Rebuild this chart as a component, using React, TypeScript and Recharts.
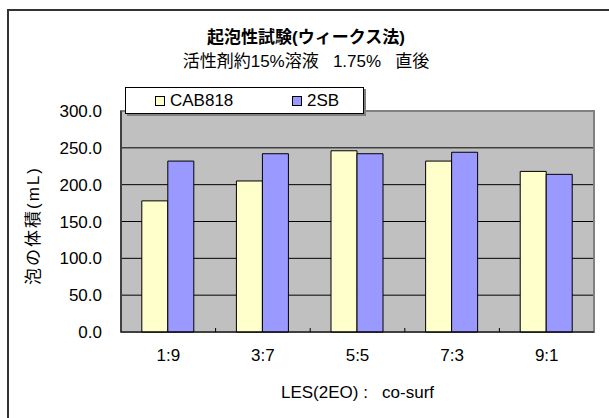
import React from 'react';
import { BarChart, Bar, XAxis, YAxis, CartesianGrid, Legend, ReferenceArea } from 'recharts';

const categories = ['1:9', '3:7', '5:5', '7:3', '9:1'];
const seriesNames = ['CAB818', '2SB'];
const cab818 = [178, 205, 246, 232, 218];
const sb2 = [232, 242, 242, 244, 214];
const yTicks = [0, 50, 100, 150, 200, 250, 300];
const gridValues = [50, 100, 150, 200, 250];

const title = '起泡性試験(ウィークス法)';
const subtitle = '活性剤約15%溶液   1.75%   直後';
const xTitle = 'LES(2EO)\u00a0:\u00a0\u00a0\u00a0co-surf';
const yTitle = '泡の体積(mL)';

const data = categories.map((name, i) => ({ name, [seriesNames[0]]: cab818[i], [seriesNames[1]]: sb2[i] }));

const FONT = "'Liberation Sans', Arial, 'Noto Sans CJK JP', sans-serif";

const XTick = (props: any) => {
  const { x, y, payload, index, width, visibleTicksCount } = props;
  const half = payload.offset ?? width / (visibleTicksCount || categories.length) / 2;
  const axisY = y - 17;
  return (
    <g>
      <text x={x} y={y} dy="0.71em" textAnchor="middle" fontSize={17} fontFamily={FONT} fill="#000">
        {payload.value}
      </text>
      {index > 0 && <line x1={x - half} x2={x - half} y1={axisY} y2={axisY - 4} stroke="#000" />}
    </g>
  );
};

const YTitle = (props: any) => {
  const { viewBox } = props;
  const cx = 33;
  const cy = viewBox.y + viewBox.height / 2 + 4;
  return (
    <text
      x={cx}
      y={cy}
      transform={`rotate(-90, ${cx}, ${cy})`}
      textAnchor="middle"
      dominantBaseline="central"
      fontSize={17}
      letterSpacing={2}
      fontFamily={FONT}
      fill="#000"
    >
      {yTitle}
    </text>
  );
};

const LegendBox = (props: any) => {
  const items = [...(props.payload || [])].sort(
    (a: any, b: any) => seriesNames.indexOf(a.value) - seriesNames.indexOf(b.value)
  );
  const pos = [29, 166];
  return (
    <div
      style={{
        position: 'absolute',
        left: 0,
        top: 0,
        width: 239,
        height: 27,
        boxSizing: 'border-box',
        border: '1px solid #000',
        background: '#fff',
        boxShadow: '2px 2px 0 #808080',
        fontFamily: FONT,
        fontSize: 17,
      }}
    >
      {items.map((it: any, i: number) => (
        <div key={it.value} style={{ position: 'absolute', left: pos[i], top: 2, display: 'flex', alignItems: 'center', height: 22 }}>
          <span
            style={{
              display: 'inline-block',
              width: 8,
              height: 8,
              border: '1px solid #000',
              background: it.color,
              marginRight: 5,
            }}
          />
          <span style={{ color: '#000' }}>{it.value}</span>
        </div>
      ))}
    </div>
  );
};

export default function App() {
  return (
    <div style={{ position: 'absolute', left: 0, top: 0, width: 609, height: 418, overflow: 'hidden', background: '#fff' }}>
      <div style={{ position: 'absolute', left: 7, top: 9, width: 700, height: 500, borderLeft: '2px solid #333', borderTop: '2px solid #333' }} />
      <div style={{ position: 'absolute', left: 0, top: 28, width: 612, textAlign: 'center', fontFamily: FONT, fontSize: 17, fontWeight: 'bold', lineHeight: '20px' }}>
        {title}
      </div>
      <div style={{ position: 'absolute', left: 0, top: 52, width: 612, textAlign: 'center', fontFamily: FONT, fontSize: 17, lineHeight: '20px', whiteSpace: 'pre' }}>
        {subtitle}
      </div>
      <div style={{ position: 'absolute', left: 0, top: 0 }}>
        <BarChart
          width={609}
          height={418}
          data={data}
          margin={{ top: 111, right: 15, bottom: 0, left: 0 }}
          barCategoryGap="22%"
          barGap={0}
        >
          <CartesianGrid fill="#C0C0C0" vertical={false} stroke="#000" horizontalValues={gridValues} />
          <ReferenceArea y1={0} y2={300} fill="none" stroke="#808080" strokeWidth={2} ifOverflow="visible" />
          <XAxis
            dataKey="name"
            height={86}
            tickSize={0}
            tickMargin={17}
            tickLine={false}
            axisLine={{ stroke: '#000' }}
            tick={<XTick />}
            label={{ value: xTitle, position: 'insideBottom', offset: 20, fontSize: 17, fontFamily: FONT, fill: '#000' }}
          />
          <YAxis
            width={121}
            domain={[0, 300]}
            ticks={yTicks}
            interval={0}
            tickFormatter={(v) => Number(v).toFixed(1)}
            tickSize={0}
            tickMargin={19}
            tickLine={false}
            axisLine={{ stroke: '#000' }}
            tick={{ fontSize: 17, fontFamily: FONT, fill: '#000' }}
            label={<YTitle />}
          />
          <Legend
            content={<LegendBox />}
            wrapperStyle={{ position: 'absolute', left: 125, top: 87, width: 0, height: 0, overflow: 'visible' }}
          />
          <Bar dataKey={seriesNames[0]} fill="#FFFFCC" stroke="#000" strokeWidth={1} isAnimationActive={false} />
          <Bar dataKey={seriesNames[1]} fill="#9999FF" stroke="#000" strokeWidth={1} isAnimationActive={false} />
        </BarChart>
      </div>
    </div>
  );
}
